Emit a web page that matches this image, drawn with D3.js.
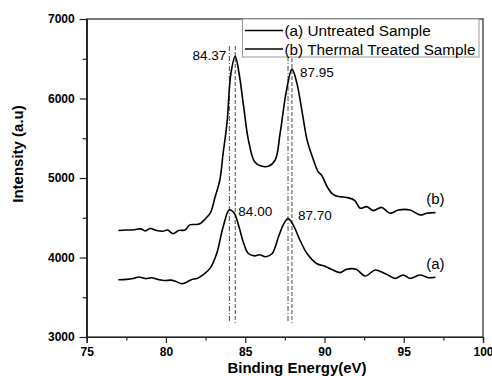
<!DOCTYPE html>
<html>
<head>
<meta charset="utf-8">
<script src="https://cdn.jsdelivr.net/npm/d3@7"></script>
<style>
  body { margin: 0; background: #fff; }
  svg { display: block; font-family: Arial, "Liberation Sans", sans-serif; }
</style>
</head>
<body>
<svg id="chart" width="492" height="376"></svg>
<script>
// (a) untreated sample
const energyA = [77.0, 77.5, 78.0, 78.3, 78.7, 79.1, 79.5, 79.9, 80.3, 80.6, 81.0, 81.3, 81.6, 82.0, 82.4, 82.8,
  83.2, 83.6, 84.0, 84.3, 84.6, 84.9, 85.2, 85.6, 85.9, 86.3, 86.7, 87.1, 87.4, 87.7, 88.0, 88.45, 88.9, 89.5,
  90.1, 90.5, 91.0, 91.4, 92.0, 92.56, 93.2, 93.7, 94.1, 94.45, 94.97, 95.4, 96.03, 96.55, 97.0];
const countsA = [3720, 3725, 3740, 3755, 3735, 3745, 3725, 3710, 3715, 3700, 3670, 3690, 3720, 3740, 3790, 3870,
  4050, 4380, 4600, 4560, 4390, 4180, 4050, 4020, 4035, 4010, 4050, 4260, 4410, 4490, 4420, 4220, 4050, 3925,
  3885, 3845, 3810, 3852, 3852, 3767, 3843, 3809, 3770, 3738, 3780, 3738, 3780, 3746, 3751];

// (b) thermal treated sample
const energyB = [77.0, 77.5, 78.0, 78.4, 78.7, 79.0, 79.4, 79.8, 80.1, 80.45, 80.8, 81.2, 81.5, 81.8, 82.1, 82.4,
  82.8, 83.1, 83.4, 83.6, 83.85, 84.1, 84.37, 84.6, 84.9, 85.2, 85.6, 86.0, 86.5, 86.9, 87.2, 87.6, 87.95, 88.25,
  88.6, 88.9, 89.3, 89.6, 89.8, 90.2, 90.5, 90.8, 91.2, 91.5, 91.9, 92.25, 92.67, 93.08, 93.6, 94.14, 94.66,
  95.4, 96.03, 96.45, 97.0];
const countsB = [4340, 4345, 4350, 4360, 4335, 4365, 4340, 4330, 4345, 4300, 4340, 4345, 4410, 4415, 4420, 4470,
  4560, 4760, 4975, 5300, 5690, 6320, 6530, 6330, 5900, 5480, 5200, 5150, 5150, 5230, 5560, 6100, 6370, 6200,
  5820, 5480, 5230, 5080, 5040, 4880, 4800, 4770, 4760, 4750, 4720, 4620, 4640, 4590, 4630, 4556, 4597,
  4597, 4535, 4556, 4564];

const seriesNames = ['(a) Untreated Sample', '(b) Thermal Treated Sample'];
const seriesTags = ['(a)', '(b)'];

// peak markers: [energy, peak intensity, label]
const peakEnergy = [84.37, 87.95, 84.00, 87.70];
const peakCounts = [6530, 6370, 4600, 4490];
const peakLabels = ['84.37', '87.95', '84.00', '87.70'];
const peakDash = ['dash', 'dash', 'dashdot', 'dashdot'];

const xTicks = [75, 80, 85, 90, 95, 100];
const xMinor = [77.5, 82.5, 87.5, 92.5, 97.5];
const yTicks = [3000, 4000, 5000, 6000, 7000];
const yMinor = [3500, 4500, 5500, 6500];

const svg = d3.select('#chart');
const L = 86.7, R = 483, T = 19, B = 337;

const x = d3.scaleLinear().domain([75, 100]).range([L, R]);
const y = d3.scaleLinear().domain([3000, 7000]).range([B, T]);

// frame
svg.append('rect').attr('x', L).attr('y', T).attr('width', R - L).attr('height', B - T)
  .attr('fill', 'none').attr('stroke', '#222').attr('stroke-width', 1.2);

// axes
const xAxis = svg.append('g').attr('transform', `translate(0,${B})`)
  .call(d3.axisBottom(x).tickValues(xTicks).tickSize(6).tickPadding(4).tickFormat(d3.format('d')));
svg.append('g').attr('transform', `translate(0,${B})`)
  .call(d3.axisBottom(x).tickValues(xMinor).tickSize(3.5).tickFormat(''));
const yAxis = svg.append('g').attr('transform', `translate(${L},0)`)
  .call(d3.axisLeft(y).tickValues(yTicks).tickSize(7).tickPadding(5).tickFormat(d3.format('d')));
svg.append('g').attr('transform', `translate(${L},0)`)
  .call(d3.axisLeft(y).tickValues(yMinor).tickSize(4).tickFormat(''));

svg.selectAll('.domain').attr('stroke', '#222').attr('stroke-width', 1.2);
svg.selectAll('.tick line').attr('stroke', '#222').attr('stroke-width', 1.2);
svg.selectAll('.tick text').attr('fill', '#000').attr('font-size', 12).attr('font-weight', 'bold')
  .attr('font-family', 'Arial, "Liberation Sans", sans-serif');

// axis titles
svg.append('text').attr('x', 297).attr('y', 373).attr('text-anchor', 'middle')
  .attr('font-size', 15).attr('font-weight', 'bold').text('Binding Energy(eV)');
svg.append('text').attr('transform', 'translate(23,154) rotate(-90)').attr('text-anchor', 'middle')
  .attr('font-size', 15).attr('font-weight', 'bold').text('Intensity (a.u)');

// vertical peak markers
svg.append('g').selectAll('line').data(peakEnergy).join('line')
  .attr('x1', d => x(d)).attr('x2', d => x(d))
  .attr('y1', y(6660)).attr('y2', y(3176))
  .attr('stroke', '#333').attr('stroke-width', 0.9)
  .attr('stroke-dasharray', (d, i) => peakDash[i] === 'dash' ? '4,2' : '5,2,1,2');

// spectra
const line = d3.line().curve(d3.curveCatmullRom.alpha(0.5));
const series = [
  energyA.map((e, i) => [x(e), y(countsA[i])]),
  energyB.map((e, i) => [x(e), y(countsB[i])])
];
svg.append('g').selectAll('path').data(series).join('path')
  .attr('d', line).attr('fill', 'none').attr('stroke', '#000').attr('stroke-width', 1.6)
  .attr('stroke-linejoin', 'round');

// peak labels
const labOff = [[-9, 4, 'end'], [8, 8, 'start'], [9, 6, 'start'], [10, 1, 'start']];
svg.append('g').selectAll('text').data(peakLabels).join('text')
  .attr('x', (d, i) => x(peakEnergy[i]) + labOff[i][0])
  .attr('y', (d, i) => y(peakCounts[i]) + labOff[i][1])
  .attr('text-anchor', (d, i) => labOff[i][2])
  .attr('font-size', 13.5).attr('fill', '#000').text(d => d);

// series tags at the end of each curve
const lastA = countsA[countsA.length - 1], lastB = countsB[countsB.length - 1];
svg.append('g').selectAll('text').data([lastA, lastB]).join('text')
  .attr('x', x(97)).attr('y', d => y(d) - 8.5).attr('text-anchor', 'middle')
  .attr('font-size', 15).text((d, i) => seriesTags[i]);

// legend
const lg = svg.append('g');
lg.append('rect').attr('x', 242.5).attr('y', T).attr('width', 236.5).attr('height', 38)
  .attr('fill', '#fff').attr('stroke', '#999').attr('stroke-width', 1);
seriesNames.forEach((name, i) => {
  const ly = 30.5 + i * 18.5;
  lg.append('line').attr('x1', 245).attr('x2', 283).attr('y1', ly).attr('y2', ly)
    .attr('stroke', '#000').attr('stroke-width', 1.5);
  lg.append('text').attr('x', 284.5).attr('y', ly + 5.5).attr('font-size', 15.3).text(name);
});
</script>
</body>
</html>
